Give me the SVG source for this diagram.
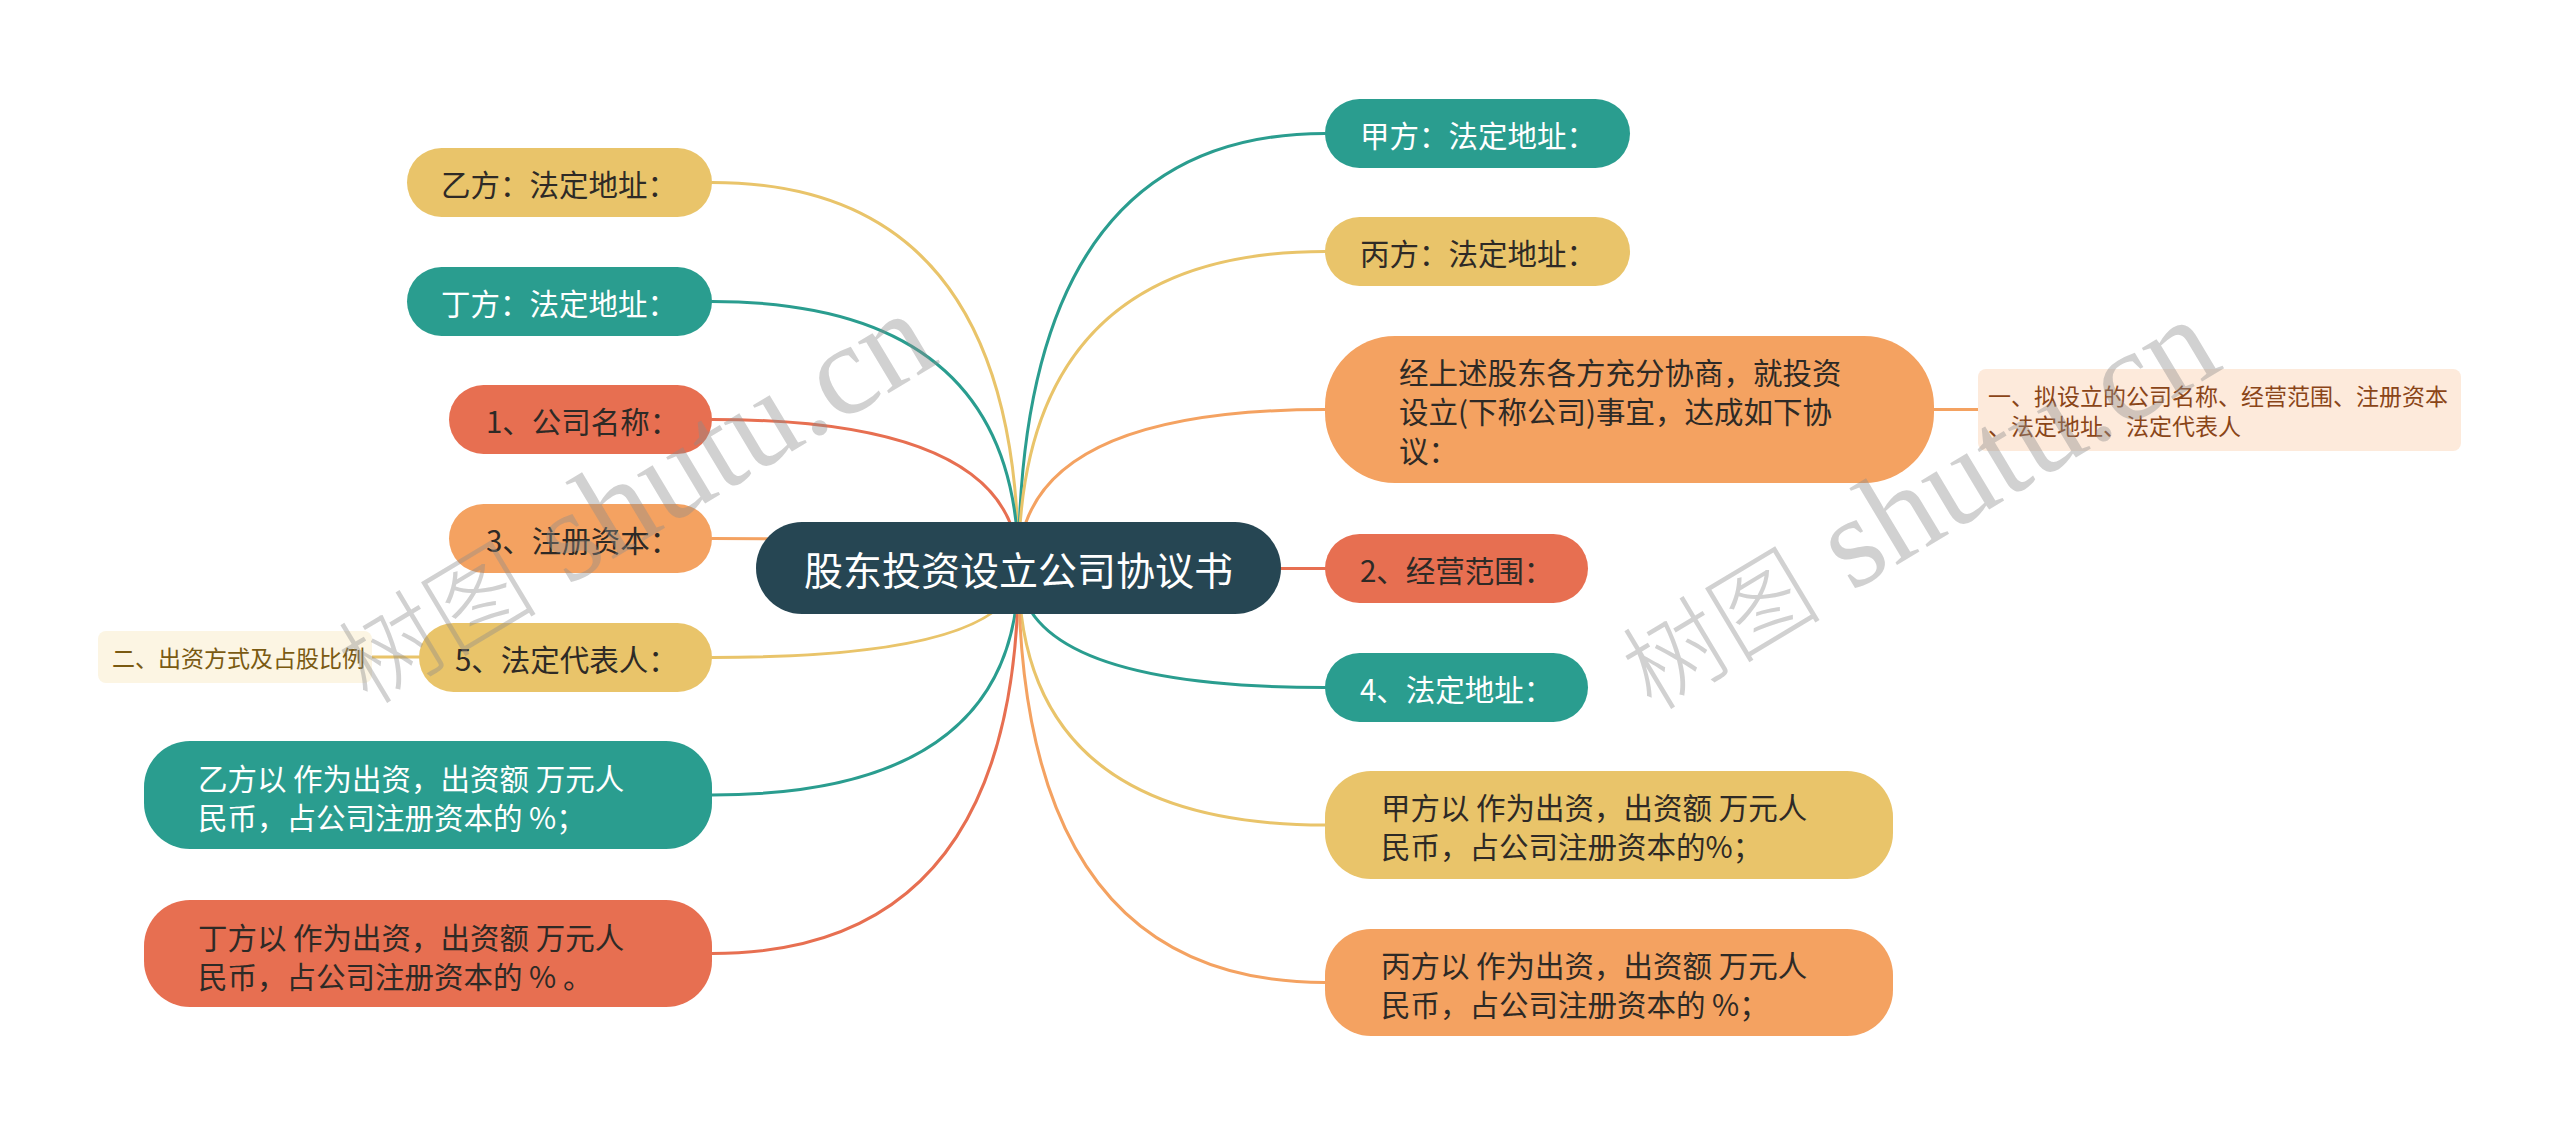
<svg xmlns="http://www.w3.org/2000/svg" width="2560" height="1136" viewBox="0 0 2560 1136">
<style>
  text { font-family: "Noto Sans CJK SC", "Liberation Sans", sans-serif; }
  .t { font-size: 29.5px; dominant-baseline: central; }
  .dk { fill: #2e2a26; }
  .wt { fill: #ffffff; }
  .sm { font-size: 23px; dominant-baseline: central; }
  .c { fill: none; stroke-width: 3; stroke-linecap: round; }
  .cy { stroke: #e9c46a; } .ct { stroke: #2a9d8f; } .cr { stroke: #e76f51; } .co { stroke: #f4a261; }
  .fy { fill: #e9c46a; } .ft { fill: #2a9d8f; } .fr { fill: #e76f51; } .fo { fill: #f4a261; }
  .wm { fill: #8c8c8c; fill-opacity: 0.4; }
</style>
<rect width="2560" height="1136" fill="#ffffff"/>
<g id="connectors">
  <path class="c cy" d="M1018.5 568 Q1018.5 182.5 712 182.5"/>
  <path class="c ct" d="M1018.5 568 Q1018.5 301.5 712 301.5"/>
  <path class="c cr" d="M1018.5 568 Q1018.5 419.5 712 419.5"/>
  <path class="c co" d="M1018.5 568 Q1018.5 538.5 712 538.5"/>
  <path class="c cy" d="M1018.5 568 Q1018.5 657.5 712 657.5"/>
  <path class="c ct" d="M1018.5 568 Q1018.5 795 712 795"/>
  <path class="c cr" d="M1018.5 568 Q1018.5 953.5 712 953.5"/>
  <path class="c ct" d="M1018.5 568 Q1018.5 133.5 1325 133.5"/>
  <path class="c cy" d="M1018.5 568 Q1018.5 251.5 1325 251.5"/>
  <path class="c co" d="M1018.5 568 Q1018.5 409.5 1325 409.5"/>
  <path class="c cr" d="M1018.5 568 Q1018.5 568.5 1325 568.5"/>
  <path class="c ct" d="M1018.5 568 Q1018.5 687.5 1325 687.5"/>
  <path class="c cy" d="M1018.5 568 Q1018.5 825 1325 825"/>
  <path class="c co" d="M1018.5 568 Q1018.5 982.5 1325 982.5"/>
  <path class="c co" d="M1934 409.5 L1978 409.5"/>
  <path class="c cy" d="M419 657 L372 657"/>
</g>
<g id="root">
  <rect x="756" y="522" width="525" height="92" rx="46" fill="#264653"/>
  <text x="1018.5" y="568" text-anchor="middle" dominant-baseline="central" font-size="39" fill="#ffffff">股东投资设立公司协议书</text>
</g>
<g id="n-yi-addr">
  <rect class="fy" x="407" y="148" width="305" height="69" rx="34.5"/>
  <text class="t dk" x="441" y="182.5">乙方：法定地址：</text>
</g>
<g id="n-ding-addr">
  <rect class="ft" x="407" y="267" width="305" height="69" rx="34.5"/>
  <text class="t wt" x="441" y="301.5">丁方：法定地址：</text>
</g>
<g id="n-1">
  <rect class="fr" x="449" y="385" width="263" height="69" rx="34.5"/>
  <text class="t dk" x="486" y="419.5">1、公司名称：</text>
</g>
<g id="n-3">
  <rect class="fo" x="449" y="504" width="263" height="69" rx="34.5"/>
  <text class="t dk" x="486" y="538.5">3、注册资本：</text>
</g>
<g id="n-5">
  <rect class="fy" x="419" y="623" width="293" height="69" rx="34.5"/>
  <text class="t dk" x="455" y="657.5">5、法定代表人：</text>
</g>
<g id="n-er">
  <rect x="98" y="631" width="274" height="52" rx="8" fill="#fcf5e3"/>
  <text class="sm" x="112" y="657" fill="#7a5a12">二、出资方式及占股比例</text>
</g>
<g id="n-yi-inv">
  <rect class="ft" x="144" y="741" width="568" height="108" rx="46"/>
  <text class="t wt" x="198" y="777">乙方以 作为出资，出资额 万元人</text>
  <text class="t wt" x="198" y="816">民币，占公司注册资本的 %；</text>
</g>
<g id="n-ding-inv">
  <rect class="fr" x="144" y="900" width="568" height="107" rx="46"/>
  <text class="t dk" x="198" y="936">丁方以 作为出资，出资额 万元人</text>
  <text class="t dk" x="198" y="975">民币，占公司注册资本的 % 。</text>
</g>
<g id="n-jia-addr">
  <rect class="ft" x="1325" y="99" width="305" height="69" rx="34.5"/>
  <text class="t wt" x="1360" y="133.5">甲方：法定地址：</text>
</g>
<g id="n-bing-addr">
  <rect class="fy" x="1325" y="217" width="305" height="69" rx="34.5"/>
  <text class="t dk" x="1360" y="251.5">丙方：法定地址：</text>
</g>
<g id="n-agree">
  <rect class="fo" x="1325" y="336" width="609" height="147" rx="70"/>
  <text class="t dk" x="1399" y="371">经上述股东各方充分协商，就投资</text>
  <text class="t dk" x="1399" y="410">设立(下称公司)事宜，达成如下协</text>
  <text class="t dk" x="1399" y="449">议：</text>
</g>
<g id="n-yi-item">
  <rect x="1978" y="369" width="483" height="82" rx="8" fill="#fdeadb"/>
  <text class="sm" x="1988" y="395" fill="#8a4518">一、拟设立的公司名称、经营范围、注册资本</text>
  <text class="sm" x="1988" y="425" fill="#8a4518">、法定地址、法定代表人</text>
</g>
<g id="n-2">
  <rect class="fr" x="1325" y="534" width="263" height="69" rx="34.5"/>
  <text class="t dk" x="1360" y="568.5">2、经营范围：</text>
</g>
<g id="n-4">
  <rect class="ft" x="1325" y="653" width="263" height="69" rx="34.5"/>
  <text class="t wt" x="1360" y="687.5">4、法定地址：</text>
</g>
<g id="n-jia-inv">
  <rect class="fy" x="1325" y="771" width="568" height="108" rx="46"/>
  <text class="t dk" x="1381" y="806">甲方以 作为出资，出资额 万元人</text>
  <text class="t dk" x="1381" y="845">民币，占公司注册资本的%；</text>
</g>
<g id="n-bing-inv">
  <rect class="fo" x="1325" y="929" width="568" height="107" rx="46"/>
  <text class="t dk" x="1381" y="964">丙方以 作为出资，出资额 万元人</text>
  <text class="t dk" x="1381" y="1003">民币，占公司注册资本的 %；</text>
</g>
<g id="watermarks" class="wm">
  <text transform="translate(368,706) rotate(-31)"><tspan font-size="100" font-weight="300">树图</tspan><tspan font-family="Liberation Serif, serif" font-size="130"> shutu.cn</tspan></text>
  <text transform="translate(1652,712) rotate(-31)"><tspan font-size="100" font-weight="300">树图</tspan><tspan font-family="Liberation Serif, serif" font-size="130"> shutu.cn</tspan></text>
</g>
</svg>
